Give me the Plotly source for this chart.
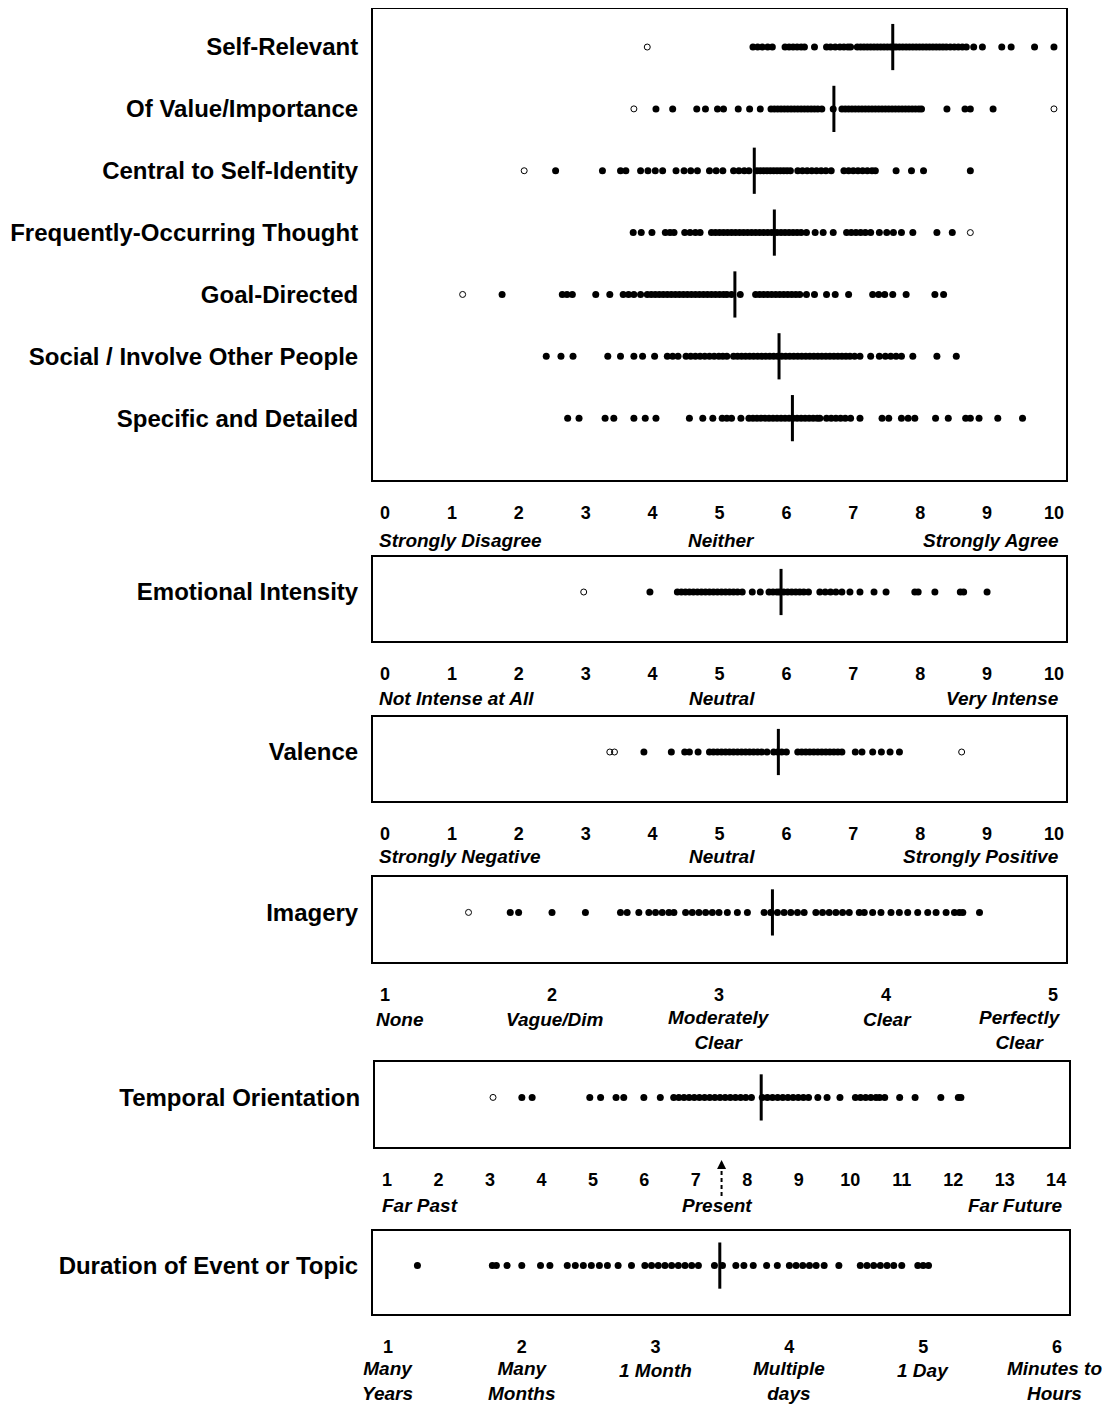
import plotly.graph_objects as go

FONT = "Liberation Sans"

# ---------------- DATA ----------------
main_labels = ["Self-Relevant", "Of Value/Importance", "Central to Self-Identity",
               "Frequently-Occurring Thought", "Goal-Directed",
               "Social / Involve Other People", "Specific and Detailed"]

self_relevant = [5.50, 5.57, 5.64, 5.72, 5.79, 5.98, 6.04, 6.10, 6.16, 6.22, 6.27, 6.42, 6.60, 6.66,
                 6.73, 6.80, 6.86, 6.92, 6.96, 7.06, 7.11, 7.16, 7.21, 7.26, 7.31, 7.36, 7.41, 7.46,
                 7.51, 7.56, 7.60, 7.64, 7.69, 7.74, 7.79, 7.84, 7.89, 7.94, 7.99, 8.04, 8.09, 8.14,
                 8.19, 8.24, 8.29, 8.34, 8.39, 8.45, 8.51, 8.57, 8.63, 8.69, 8.80, 8.93, 9.22, 9.36,
                 9.71, 10.0]
of_value = [4.05, 4.30, 4.66, 4.79, 4.97, 5.06, 5.28, 5.45, 5.61, 5.77, 5.82, 5.87, 5.92, 5.97,
            6.02, 6.07, 6.12, 6.17, 6.22, 6.27, 6.32, 6.37, 6.42, 6.47, 6.53, 6.70, 6.83, 6.88,
            6.93, 6.98, 7.03, 7.08, 7.13, 7.18, 7.23, 7.28, 7.33, 7.38, 7.43, 7.48, 7.53, 7.58,
            7.63, 7.68, 7.73, 7.78, 7.83, 7.88, 7.93, 7.98, 8.02, 8.40, 8.67, 8.75, 9.09]
central = [2.55, 3.25, 3.52, 3.60, 3.82, 3.93, 4.04, 4.15, 4.35, 4.47, 4.57, 4.67, 4.85, 4.95,
           5.05, 5.21, 5.29, 5.37, 5.44, 5.56, 5.61, 5.66, 5.71, 5.76, 5.81, 5.86, 5.91, 5.96,
           6.01, 6.06, 6.17, 6.24, 6.31, 6.38, 6.45, 6.52, 6.59, 6.67, 6.86, 6.93, 7.00, 7.07,
           7.14, 7.21, 7.28, 7.33, 7.64, 7.87, 8.05, 8.75]
frequent = [3.71, 3.83, 3.99, 4.19, 4.26, 4.32, 4.48, 4.56, 4.64, 4.71, 4.88, 4.94, 5.00, 5.06,
            5.12, 5.18, 5.24, 5.30, 5.36, 5.42, 5.48, 5.54, 5.60, 5.66, 5.72, 5.78, 5.86, 5.92,
            5.98, 6.04, 6.10, 6.16, 6.22, 6.30, 6.43, 6.55, 6.70, 6.90, 6.97, 7.04, 7.11, 7.18,
            7.26, 7.39, 7.50, 7.60, 7.72, 7.89, 8.25, 8.48]
goal = [1.75, 2.65, 2.72, 2.80, 3.15, 3.36, 3.56, 3.64, 3.72, 3.82, 3.92, 3.98, 4.04, 4.10, 4.16,
        4.22, 4.28, 4.34, 4.40, 4.46, 4.52, 4.58, 4.64, 4.70, 4.76, 4.82, 4.88, 4.94, 5.00, 5.06,
        5.11, 5.18, 5.31, 5.54, 5.60, 5.66, 5.72, 5.78, 5.84, 5.90, 5.96, 6.02, 6.08, 6.14, 6.20,
        6.30, 6.42, 6.60, 6.73, 6.93, 7.29, 7.38, 7.47, 7.59, 7.79, 8.22, 8.35]
social = [2.41, 2.63, 2.81, 3.33, 3.52, 3.72, 3.85, 4.03, 4.22, 4.30, 4.38, 4.50, 4.57, 4.64, 4.71,
          4.78, 4.85, 4.92, 4.99, 5.05, 5.11, 5.21, 5.27, 5.33, 5.39, 5.45, 5.51, 5.57, 5.63, 5.69,
          5.75, 5.81, 5.87, 5.93, 5.99, 6.05, 6.11, 6.17, 6.23, 6.29, 6.35, 6.41, 6.47, 6.53, 6.59,
          6.65, 6.71, 6.77, 6.83, 6.89, 6.95, 7.02, 7.10, 7.26, 7.39, 7.48, 7.56, 7.64, 7.72, 7.89,
          8.25, 8.54]
specific = [2.73, 2.90, 3.29, 3.42, 3.72, 3.89, 4.05, 4.55, 4.75, 4.90, 5.04, 5.11, 5.18, 5.32,
            5.44, 5.50, 5.56, 5.62, 5.68, 5.74, 5.80, 5.86, 5.92, 5.98, 6.04, 6.10, 6.16, 6.22,
            6.28, 6.34, 6.40, 6.46, 6.50, 6.60, 6.67, 6.74, 6.81, 6.88, 6.96, 7.10, 7.43, 7.53,
            7.72, 7.82, 7.92, 8.23, 8.42, 8.68, 8.75, 8.88, 9.16, 9.53]
main_values = [self_relevant, of_value, central, frequent, goal, social, specific]
main_outliers = [[3.92], [3.72, 10.0], [2.08], [8.75], [1.16], [], []]
main_medians = [7.59, 6.71, 5.52, 5.82, 5.23, 5.89, 6.09]

emotional = [3.96, 4.37, 4.43, 4.49, 4.55, 4.61, 4.67, 4.73, 4.79, 4.85, 4.91, 4.97, 5.03, 5.09,
             5.15, 5.21, 5.27, 5.34, 5.49, 5.61, 5.74, 5.80, 5.86, 5.90, 5.96, 6.02, 6.08, 6.14,
             6.20, 6.26, 6.33, 6.50, 6.58, 6.66, 6.74, 6.83, 6.95, 7.10, 7.31, 7.49, 7.92, 7.97,
             8.22, 8.60, 8.65, 9.00]
emotional_out = [2.97]
emotional_median = 5.92

valence = [3.87, 4.28, 4.48, 4.55, 4.68, 4.85, 4.91, 4.97, 5.03, 5.09, 5.15, 5.21, 5.27, 5.33,
           5.39, 5.45, 5.51, 5.57, 5.63, 5.71, 5.81, 5.87, 5.93, 6.00, 6.17, 6.23, 6.29, 6.35,
           6.41, 6.47, 6.53, 6.59, 6.65, 6.71, 6.77, 6.83, 7.03, 7.13, 7.29, 7.42, 7.55, 7.69]
valence_out = [3.36, 3.43, 8.62]
valence_median = 5.88

imagery = [1.75, 1.80, 2.00, 2.20, 2.41, 2.45, 2.52, 2.58, 2.62, 2.66, 2.70, 2.73, 2.80, 2.84,
           2.88, 2.92, 2.96, 3.00, 3.05, 3.11, 3.17, 3.27, 3.31, 3.35, 3.39, 3.43, 3.47, 3.51,
           3.58, 3.62, 3.66, 3.70, 3.74, 3.78, 3.84, 3.87, 3.92, 3.97, 4.03, 4.08, 4.13, 4.19,
           4.25, 4.30, 4.36, 4.41, 4.44, 4.46, 4.56]
imagery_out = [1.50]
imagery_median = 3.32

temporal = [3.62, 3.82, 4.94, 5.15, 5.45, 5.60, 5.99, 6.31, 6.57, 6.67, 6.77, 6.87, 6.97, 7.07,
            7.17, 7.27, 7.37, 7.47, 7.57, 7.67, 7.77, 7.87, 7.97, 8.08, 8.29, 8.39, 8.49, 8.59,
            8.69, 8.79, 8.89, 8.99, 9.09, 9.19, 9.37, 9.55, 9.80, 10.10, 10.20, 10.30, 10.40,
            10.50, 10.57, 10.67, 10.96, 11.26, 11.76, 12.10, 12.15]
temporal_out = [3.06]
temporal_median = 8.27
present_value = 7.5

duration = [1.22, 1.78, 1.81, 1.89, 2.00, 2.14, 2.21, 2.34, 2.40, 2.46, 2.52, 2.58, 2.64, 2.72,
            2.82, 2.92, 2.97, 3.02, 3.07, 3.12, 3.17, 3.22, 3.27, 3.32, 3.44, 3.50, 3.60, 3.66,
            3.73, 3.83, 3.91, 4.00, 4.05, 4.10, 4.15, 4.20, 4.26, 4.37, 4.53, 4.58, 4.63, 4.68,
            4.73, 4.78, 4.84, 4.96, 5.00, 5.04]
duration_out = []
duration_median = 3.48

ticks_0_10 = list(range(0, 11))
ticks_imagery = [1, 2, 3, 4, 5]
ticks_temporal = list(range(1, 15))
ticks_duration = [1, 2, 3, 4, 5, 6]

agree_labels = ["Strongly Disagree", "Neither", "Strongly Agree"]
intensity_labels = ["Not Intense at All", "Neutral", "Very Intense"]
valence_labels = ["Strongly Negative", "Neutral", "Strongly Positive"]
imagery_labels = ["None", "Vague/Dim", "Moderately<br>Clear", "Clear", "Perfectly<br>Clear"]
imagery_label_pos = [1.09, 2.02, 3.0, 4.01, 4.80]
temporal_labels = ["Far Past", "Present", "Far Future"]
duration_labels = ["Many<br>Years", "Many<br>Months", "1 Month", "Multiple<br>days", "1 Day",
                   "Minutes to<br>Hours"]
duration_label_pos = [1, 2, 3, 4, 5, 5.98]

# ---------------- FIGURE ----------------
OFF = 8                      # page body margin
W, H = 1110 - OFF, 1404 - OFF
def px(p):
    return min(1.0, max(0.0, (p - OFF) / W))
def py(p):
    return min(1.0, max(0.0, 1 - (p - OFF) / H))

fig = go.Figure()

DOT = dict(size=7, color="black", symbol="circle")
OPEN = dict(size=6, color="black", symbol="circle-open", line=dict(width=1, color="black"))

def add_row(vals, outs, med, yv, xa, ya, medsize):
    fig.add_trace(go.Scatter(x=vals, y=[yv] * len(vals), mode="markers", marker=DOT,
                             xaxis=xa, yaxis=ya, showlegend=False, hoverinfo="x"))
    if outs:
        fig.add_trace(go.Scatter(x=outs, y=[yv] * len(outs), mode="markers", marker=OPEN,
                                 xaxis=xa, yaxis=ya, showlegend=False, hoverinfo="x"))
    fig.add_trace(go.Scatter(x=[med], y=[yv], mode="markers",
                             marker=dict(symbol="line-ns", size=medsize,
                                         line=dict(width=3, color="black")),
                             xaxis=xa, yaxis=ya, showlegend=False, hoverinfo="x"))

MED = 33
for i, (vals, outs, med) in enumerate(zip(main_values, main_outliers, main_medians)):
    add_row(vals, outs, med, i, "x", "y", MED)

add_row(emotional, emotional_out, emotional_median, 0, "x2", "y2", MED)
add_row(valence, valence_out, valence_median, 0, "x3", "y3", MED)
add_row(imagery, imagery_out, imagery_median, 0, "x4", "y4", MED)
add_row(temporal, temporal_out, temporal_median, 0, "x5", "y5", MED)
add_row(duration, duration_out, duration_median, 0, "x6", "y6", MED)

TICKFONT = dict(family=FONT, size=18, color="black", weight="bold")
LABFONT = dict(family=FONT, size=24, color="black", weight="bold")

def xax(domain, rng, tickvals, anchor):
    return dict(domain=domain, range=rng, tickvals=tickvals, ticktext=[str(t) for t in tickvals],
                showgrid=False, zeroline=False, showline=True, mirror=True, linecolor="black",
                linewidth=2, ticks="", tickfont=TICKFONT, ticklabelstandoff=15, anchor=anchor,
                fixedrange=True)

def yax(domain, rng, tickvals, ticktext, anchor):
    return dict(domain=domain, range=rng, tickvals=tickvals, ticktext=ticktext,
                showgrid=False, zeroline=False, showline=True, mirror=True, linecolor="black",
                linewidth=2, ticks="", tickfont=LABFONT, ticklabelstandoff=8, anchor=anchor,
                fixedrange=True)

xd_a = [px(373), px(1066)]
xd_b = [px(375), px(1069)]
xd_c = [px(373), px(1069)]

small_y = [-1.4, 1.0]

fig.update_layout(
    width=W, height=H, margin=dict(l=0, r=0, t=0, b=0),
    paper_bgcolor="white", plot_bgcolor="white",
    font=dict(family=FONT, color="black"),
    xaxis=xax(xd_a, [-0.18, 10.18], ticks_0_10, "y"),
    yaxis=yax([py(480), py(9)], [7.0, -0.615], list(range(len(main_labels))), main_labels, "x"),
    xaxis2=xax(xd_a, [-0.18, 10.18], ticks_0_10, "y2"),
    yaxis2=yax([py(641), py(557)], small_y, [0], ["Emotional Intensity"], "x2"),
    xaxis3=xax(xd_a, [-0.18, 10.18], ticks_0_10, "y3"),
    yaxis3=yax([py(801), py(717)], small_y, [0], ["Valence"], "x3"),
    xaxis4=xax(xd_a, [0.928, 5.078], ticks_imagery, "y4"),
    yaxis4=yax([py(962), py(877)], small_y, [0], ["Imagery"], "x4"),
    xaxis5=xax(xd_b, [0.767, 14.25], ticks_temporal, "y5"),
    yaxis5=yax([py(1147), py(1062)], small_y, [0], ["Temporal Orientation"], "x5"),
    xaxis6=xax(xd_c, [0.888, 6.09], ticks_duration, "y6"),
    yaxis6=yax([py(1314), py(1231)], small_y, [0], ["Duration of Event or Topic"], "x6"),
)

ann = []
def sub(text, x, xref, ypix, xanchor="center"):
    ann.append(dict(text="<b><i>" + text + "</i></b>", x=x, xref=xref, y=py(ypix), yref="paper",
                    xanchor=xanchor, yanchor="middle", showarrow=False,
                    font=dict(family=FONT, size=19, color="black")))

# three-part scales
for labels, xref, ypix in [(agree_labels, "x", 540), (intensity_labels, "x2", 698),
                           (valence_labels, "x3", 856)]:
    sub(labels[0], -0.12, xref, ypix, "left")
    sub(labels[1], 5.03, xref, ypix, "center")
    sub(labels[2], 10.11, xref, ypix, "right")

for t, xv in zip(imagery_labels, imagery_label_pos):
    sub(t, xv, "x4", 1030 if "<br>" in t else 1019)

sub(temporal_labels[0], 0.86, "x5", 1205, "left")
sub(temporal_labels[1], present_value - 0.09, "x5", 1205, "center")
sub(temporal_labels[2], 14.16, "x5", 1205, "right")

for t, xv in zip(duration_labels, duration_label_pos):
    sub(t, xv, "x6", 1381 if "<br>" in t else 1370)

# "Present" arrow on the temporal axis
ann.append(dict(text="", x=present_value, xref="x5", y=py(1160), yref="paper",
                ax=0, ay=8, showarrow=True, arrowhead=2, arrowsize=1.2, arrowwidth=1.5,
                arrowcolor="black"))
fig.update_layout(annotations=ann)
fig.add_shape(type="line", x0=present_value, x1=present_value, xref="x5",
              y0=py(1196), y1=py(1166), yref="paper",
              line=dict(color="black", width=2, dash="4px,3px"))

fig.write_html("out.html")
